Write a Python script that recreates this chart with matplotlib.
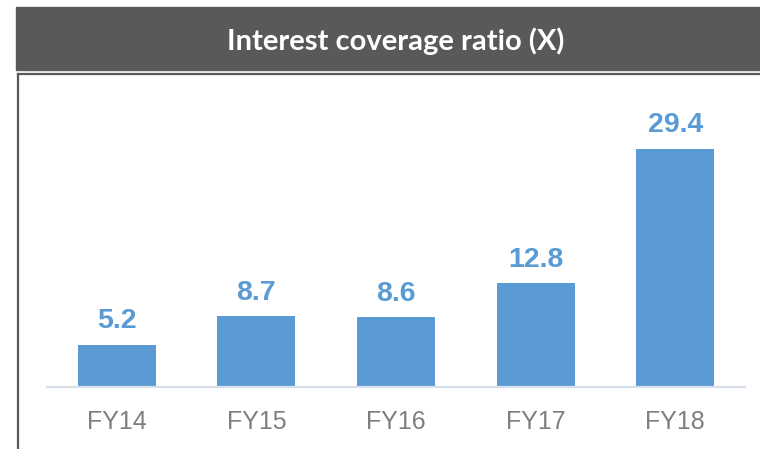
import matplotlib.pyplot as plt
from matplotlib.patches import Rectangle
from matplotlib.lines import Line2D

# data
years = ["FY14", "FY15", "FY16", "FY17", "FY18"]
ratio = [5.2, 8.7, 8.6, 12.8, 29.4]
labels = ["5.2", "8.7", "8.6", "12.8", "29.4"]

bar_blue = "#5B9BD5"
narrow = ["Liberation Sans", "DejaVu Sans"]

fig = plt.figure(figsize=(7.6, 4.49), dpi=100)
W, H = 760, 449

# dark title band
fig.patches.append(Rectangle((16 / W, 1 - 70 / H), 1 - 16 / W, 63 / H,
                             transform=fig.transFigure, color="#595959", zorder=0))
fig.text(396 / W, 1 - 41 / H, "Interest coverage ratio (X)",
         color="white", fontsize=21, fontweight="bold", family=["Lato", "DejaVu Sans"],
         ha="center", va="center")

# box border under the band and on the left
fig.lines.append(Line2D([18 / W, 1], [1 - 73.5 / H, 1 - 73.5 / H],
                        transform=fig.transFigure, color="#595959", lw=1.6))
fig.lines.append(Line2D([18 / W, 18 / W], [1 - 73.5 / H, 0],
                        transform=fig.transFigure, color="#595959", lw=1.6))

ax = fig.add_axes([47 / W, 62 / H, 698 / W, 312 / H])
x = range(len(years))
bars = ax.bar(x, ratio, width=0.56, color=bar_blue, zorder=2)

for b, lab in zip(bars, labels):
    ax.annotate(lab, (b.get_x() + b.get_width() / 2, b.get_height()),
                xytext=(0, 12), textcoords="offset points",
                ha="center", va="baseline", color=bar_blue,
                fontsize=20.5, fontweight="bold", family=narrow)

ax.set_xlim(-0.5, 4.5)
ax.set_ylim(0, 38.5)
ax.set_xticks(list(x))
ax.set_xticklabels(years, fontsize=18, color="#7F7F7F", family=narrow)
ax.tick_params(axis="x", length=0, pad=16.5)
ax.set_yticks([])
for s in ["top", "right", "left"]:
    ax.spines[s].set_visible(False)
ax.spines["bottom"].set_color("#D9DFEA")
ax.spines["bottom"].set_linewidth(1.6)
ax.patch.set_alpha(0)

fig.savefig("out.png", dpi=100)
